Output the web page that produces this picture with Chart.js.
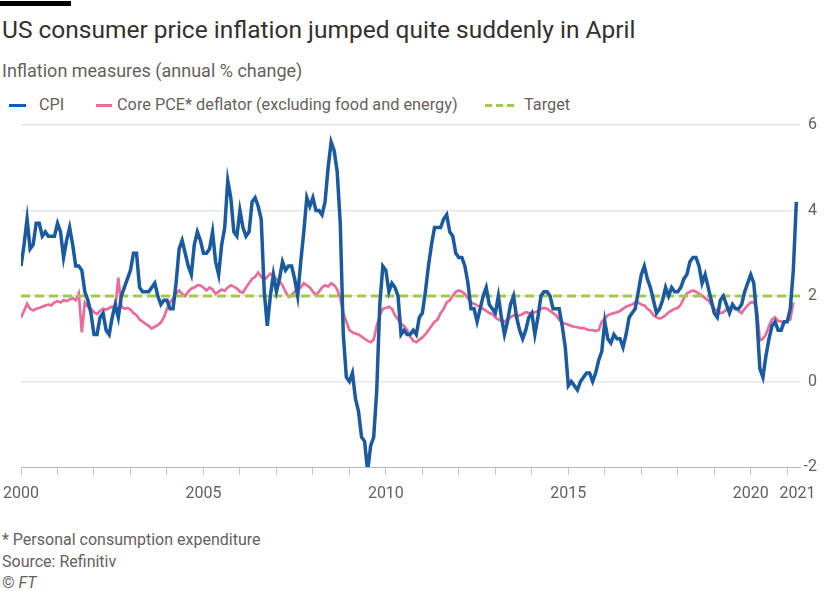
<!DOCTYPE html>
<html>
<head>
<meta charset="utf-8">
<script src="https://cdn.jsdelivr.net/npm/chart.js@4"></script>
<style>
  html, body { margin: 0; padding: 0; background: #fff; }
  body { width: 827px; height: 591px; position: relative; overflow: hidden; font-family: Roboto, "Open Sans", sans-serif; }
  .bar { position: absolute; left: 0; top: 1px; width: 71px; height: 5px; background: #000; }
  .title { position: absolute; left: 2px; top: 14px; font-size: 24.5px; line-height: 32px; color: #33302e; white-space: nowrap; }
  .subtitle { position: absolute; left: 2px; top: 59px; font-size: 18px; line-height: 24px; color: #66605c; white-space: nowrap; }
  .leg { position: absolute; top: 94px; font-size: 16.3px; line-height: 22px; color: #66605c; white-space: nowrap; }
  .sw { position: absolute; top: 104px; height: 3px; }
  .note { position: absolute; left: 2px; font-size: 16px; line-height: 20px; color: #66605c; white-space: nowrap; }
  #wrap { position: absolute; left: 0; top: 110px; width: 827px; height: 410px; }
</style>
</head>
<body>
<div class="bar"></div>
<div class="title">US consumer price inflation jumped quite suddenly in April</div>
<div class="subtitle">Inflation measures (annual % change)</div>

<div class="sw" style="left:9px;width:17px;background:#1a5aa0;"></div>
<div class="leg" style="left:39px;">CPI</div>
<div class="sw" style="left:96px;width:16px;background:#ea6b9a;"></div>
<div class="leg" style="left:117px;">Core PCE* deflator (excluding food and energy)</div>
<div class="sw" style="left:485px;width:29px;background:repeating-linear-gradient(90deg,#a3c94c 0 7px,transparent 7px 11px);"></div>
<div class="leg" style="left:524px;">Target</div>

<div id="wrap"><canvas id="chart" width="827" height="410"></canvas></div>

<div class="note" style="top:530px;">* Personal consumption expenditure</div>
<div class="note" style="top:552px;">Source: Refinitiv</div>
<div class="note" style="top:573px;">© <i>FT</i></div>

<script>
// monthly, Jan 2000 onwards
const cpi = [
  2.7, 3.2, 3.8, 3.1, 3.2, 3.7, 3.7, 3.4, 3.5, 3.4, 3.4, 3.4,
  3.7, 3.5, 2.9, 3.3, 3.6, 3.2, 2.7, 2.7, 2.6, 2.1, 1.9, 1.6,
  1.1, 1.1, 1.5, 1.6, 1.2, 1.1, 1.5, 1.8, 1.5, 2.0, 2.2, 2.4,
  2.6, 3.0, 3.0, 2.2, 2.1, 2.1, 2.1, 2.2, 2.3, 2.0, 1.8, 1.9,
  1.9, 1.7, 1.7, 2.3, 3.1, 3.3, 3.0, 2.7, 2.5, 3.2, 3.5, 3.3,
  3.0, 3.0, 3.1, 3.5, 2.8, 2.5, 3.2, 3.6, 4.7, 4.3, 3.5, 3.4,
  4.0, 3.6, 3.4, 3.5, 4.2, 4.3, 4.1, 3.8, 2.1, 1.3, 2.0, 2.5,
  2.1, 2.4, 2.8, 2.6, 2.7, 2.7, 2.4, 2.0, 2.8, 3.5, 4.3, 4.1,
  4.3, 4.0, 4.0, 3.9, 4.2, 5.0, 5.6, 5.4, 4.9, 3.7, 1.1, 0.1,
  0.0, 0.2, -0.4, -0.7, -1.3, -1.4, -2.1, -1.5, -1.3, -0.2, 1.8, 2.7,
  2.6, 2.1, 2.3, 2.2, 2.0, 1.1, 1.2, 1.1, 1.1, 1.2, 1.1, 1.5,
  1.6, 2.1, 2.7, 3.2, 3.6, 3.6, 3.6, 3.8, 3.9, 3.5, 3.4, 3.0,
  2.9, 2.9, 2.7, 2.3, 1.7, 1.7, 1.4, 1.7, 2.0, 2.2, 1.8, 1.7,
  1.6, 2.0, 1.5, 1.1, 1.4, 1.8, 2.0, 1.5, 1.2, 1.0, 1.2, 1.5,
  1.6, 1.1, 1.5, 2.0, 2.1, 2.1, 2.0, 1.7, 1.7, 1.7, 1.3, 0.8,
  -0.1, 0.0, -0.1, -0.2, 0.0, 0.1, 0.2, 0.2, 0.0, 0.2, 0.5, 0.7,
  1.4, 1.0, 0.9, 1.1, 1.0, 1.0, 0.8, 1.1, 1.5, 1.6, 1.7, 2.1,
  2.5, 2.7, 2.4, 2.2, 1.9, 1.6, 1.7, 1.9, 2.2, 2.0, 2.2, 2.1,
  2.1, 2.2, 2.4, 2.5, 2.8, 2.9, 2.9, 2.7, 2.3, 2.5, 2.2, 1.9,
  1.6, 1.5, 1.9, 2.0, 1.8, 1.6, 1.8, 1.7, 1.7, 1.8, 2.1, 2.3,
  2.5, 2.3, 1.5, 0.3, 0.1, 0.6, 1.0, 1.3, 1.4, 1.2, 1.2, 1.4,
  1.4, 1.7, 2.6, 4.2
];

const corePce = [
  1.50, 1.65, 1.82, 1.70, 1.66, 1.70, 1.72, 1.75, 1.78, 1.80, 1.78, 1.85,
  1.88, 1.85, 1.90, 1.88, 1.92, 1.95, 1.90, 2.06, 1.15, 1.85, 1.75, 1.70,
  1.62, 1.58, 1.65, 1.70, 1.68, 1.72, 1.75, 1.68, 2.43, 1.75, 1.70, 1.72,
  1.68, 1.60, 1.55, 1.45, 1.40, 1.35, 1.30, 1.24, 1.28, 1.32, 1.38, 1.50,
  1.70, 1.85, 1.94, 2.05, 2.13, 2.05, 2.00, 2.10, 2.17, 2.20, 2.25, 2.25,
  2.20, 2.13, 2.20, 2.15, 2.05, 2.10, 2.15, 2.12, 2.20, 2.25, 2.22, 2.18,
  2.10, 2.08, 2.20, 2.30, 2.40, 2.45, 2.55, 2.45, 2.38, 2.45, 2.52, 2.48,
  2.40, 2.35, 2.25, 2.10, 1.98, 2.02, 2.10, 2.15, 2.20, 2.30, 2.25, 2.20,
  2.10, 2.02, 2.10, 2.20, 2.25, 2.22, 2.30, 2.25, 2.15, 1.95, 1.60, 1.40,
  1.20, 1.15, 1.12, 1.10, 1.05, 1.00, 0.95, 0.92, 0.98, 1.30, 1.55, 1.70,
  1.72, 1.75, 1.70, 1.55, 1.45, 1.35, 1.30, 1.20, 1.05, 0.95, 0.92, 0.98,
  1.03, 1.10, 1.20, 1.30, 1.40, 1.45, 1.60, 1.70, 1.85, 1.90, 2.00, 2.10,
  2.13, 2.10, 2.05, 1.95, 1.85, 1.82, 1.78, 1.75, 1.70, 1.65, 1.60, 1.58,
  1.50, 1.45, 1.43, 1.40, 1.45, 1.50, 1.55, 1.52, 1.55, 1.58, 1.62, 1.60,
  1.60, 1.62, 1.65, 1.70, 1.72, 1.70, 1.65, 1.60, 1.55, 1.45, 1.38, 1.35,
  1.33, 1.30, 1.28, 1.27, 1.25, 1.25, 1.22, 1.20, 1.20, 1.18, 1.20, 1.40,
  1.47, 1.55, 1.58, 1.60, 1.62, 1.65, 1.70, 1.75, 1.78, 1.80, 1.85, 1.85,
  1.80, 1.78, 1.70, 1.65, 1.55, 1.50, 1.47, 1.50, 1.55, 1.62, 1.66, 1.70,
  1.72, 1.80, 1.95, 2.06, 2.10, 2.13, 2.10, 2.05, 2.01, 1.95, 1.90, 1.80,
  1.70, 1.65, 1.60, 1.62, 1.68, 1.72, 1.78, 1.72, 1.65, 1.60, 1.70, 1.78,
  1.85, 1.85, 1.70, 0.96, 1.00, 1.10, 1.30, 1.45, 1.50, 1.42, 1.40, 1.38,
  1.43, 1.45, 1.85
];

const target = 2;
const startYear = 2000;
const endYear = 2021.35;
const yearTicks = [];
for (let y = 2000; y <= 2021; y++) yearTicks.push(y);
const labelledYears = [2000, 2005, 2010, 2015, 2020];
// the last label sits a little to the right of its tick, as in the original
const lastLabelAt = 2021.28;
const lastLabel = '2021';
const yTicks = [-2, 0, 2, 4, 6];

function toPoints(values) {
    return values.map((v, i) => ({ x: startYear + i / 12, y: v }));
}

const textGrey = '#66605c';

new Chart(document.getElementById('chart').getContext('2d'), {
    type: 'line',
    data: {
        datasets: [
            {
                label: 'CPI',
                data: toPoints(cpi),
                borderColor: '#1a5aa0',
                borderWidth: 3.5,
                pointRadius: 0,
                tension: 0,
                order: 1
            },
            {
                label: 'Target',
                data: [{ x: startYear, y: target }, { x: endYear, y: target }],
                borderColor: '#a3c94c',
                borderWidth: 3,
                borderDash: [9, 5],
                pointRadius: 0,
                order: 2
            },
            {
                label: 'Core PCE* deflator (excluding food and energy)',
                data: toPoints(corePce),
                borderColor: '#ea6b9a',
                borderWidth: 2.7,
                pointRadius: 0,
                tension: 0,
                order: 3
            }
        ]
    },
    options: {
        responsive: false,
        animation: false,
        layout: { padding: { left: 21, top: 15, right: 10, bottom: 0 } },
        scales: {
            x: {
                type: 'linear',
                min: startYear,
                max: endYear,
                afterBuildTicks: (scale) => {
                    scale.ticks = yearTicks.map(v => ({ value: v })).concat([{ value: lastLabelAt }]);
                },
                afterFit: (scale) => {
                    scale.height = 53;
                    // keep the plot edge fixed, labels may overhang
                    scale.paddingLeft = 0;
                    scale.paddingRight = 0;
                },
                grid: {
                    drawOnChartArea: false,
                    drawTicks: true,
                    tickLength: 8,
                    color: (ctx) => ctx.tick && ctx.tick.value === lastLabelAt ? 'rgba(0,0,0,0)' : '#c8c8c8'
                },
                border: { display: true, color: '#b8b8b8', width: 1 },
                ticks: {
                    autoSkip: false,
                    maxRotation: 0,
                    padding: 9,
                    color: textGrey,
                    font: { family: 'Roboto', size: 16 },
                    callback: (v) => v === lastLabelAt ? lastLabel : (labelledYears.includes(v) ? String(v) : '')
                }
            },
            y: {
                position: 'right',
                min: -2,
                max: 6,
                afterBuildTicks: (scale) => { scale.ticks = yTicks.map(v => ({ value: v })); },
                afterFit: (scale) => { scale.width = 17; },
                grid: {
                    drawTicks: false,
                    color: (ctx) => ctx.tick && ctx.tick.value === -2 ? 'rgba(0,0,0,0)' : '#e6e6e6',
                    lineWidth: 1.5
                },
                border: { display: false },
                ticks: {
                    crossAlign: 'far',
                    padding: 0,
                    color: textGrey,
                    font: { family: 'Roboto', size: 16 }
                }
            }
        },
        plugins: {
            legend: { display: false },
            tooltip: { enabled: false }
        }
    }
});
</script>
</body>
</html>
